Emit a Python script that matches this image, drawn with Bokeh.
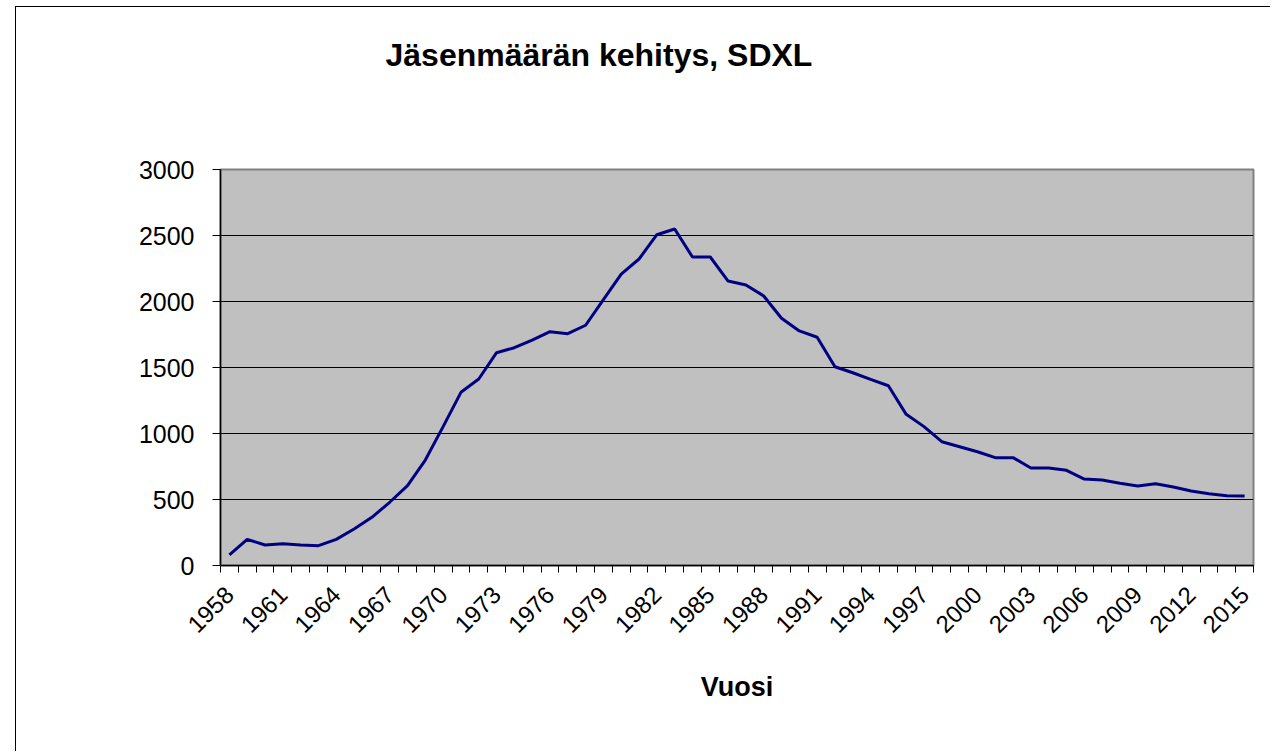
import math
from bokeh.plotting import figure
from bokeh.models import FixedTicker, Range1d, ColumnDataSource, Title
from bokeh.embed import file_html
from bokeh.resources import INLINE

# ---- data ----
years = list(range(1958, 2016))
members = [80, 198, 155, 165, 155, 150, 198, 277, 365, 479,
           605, 799, 1052, 1312, 1413, 1612, 1650, 1708, 1771, 1756,
           1820, 2014, 2208, 2322, 2506, 2549, 2337, 2337, 2155, 2125,
           2042, 1873, 1777, 1729, 1506, 1460, 1410, 1362, 1145, 1052,
           938, 900, 862, 817, 817, 739, 739, 721, 655, 648,
           623, 602, 620, 595, 565, 544, 529, 527]
label_years = list(range(1958, 2016, 3))
y_ticks = [0, 500, 1000, 1500, 2000, 2500, 3000]
title_text = "Jäsenmäärän kehitys, SDXL"
x_title = "Vuosi"

FONT = "Liberation Sans"

src = ColumnDataSource(data=dict(year=years, members=members))

p = figure(width=1255, height=745, output_backend="svg", toolbar_location=None,
           x_range=Range1d(years[0] - 0.5, years[-1] + 0.5),
           y_range=Range1d(y_ticks[0], y_ticks[-1]),
           min_border_left=204, min_border_right=18,
           min_border_top=162, min_border_bottom=187,
           margin=(6, 0, 0, 15),
           styles={"border-left": "1px solid black", "border-top": "1px solid black"})

p.background_fill_color = "#C0C0C0"
p.border_fill_color = "white"
p.outline_line_color = "#808080"
p.outline_line_width = 2

p.line("year", "members", source=src, line_color="#000080", line_width=3)

# title
p.title.text = title_text
p.title.align = "left"
p.title.offset = 165
p.title.standoff = 10
p.title.text_font = FONT
p.title.text_font_style = "bold"
p.title.text_font_size = "32px"
p.title.text_color = "black"

# spacer between title and plot area
p.add_layout(Title(text=" ", text_font_size="1px", standoff=89), "above")

# grids
p.xgrid.visible = False
p.ygrid.grid_line_color = "black"
p.ygrid.grid_line_width = 1
p.ygrid.ticker = FixedTicker(ticks=y_ticks)

# y axis
ya = p.yaxis[0]
ya.ticker = FixedTicker(ticks=y_ticks)
ya.axis_line_color = "black"
ya.axis_line_width = 1.5
ya.major_tick_out = 8
ya.major_tick_in = 0
ya.minor_tick_out = 0
ya.minor_tick_in = 0
ya.major_label_standoff = 18
ya.major_label_text_font = FONT
ya.major_label_text_font_size = "25px"
ya.major_label_text_color = "black"

# x axis
xa = p.xaxis[0]
xa.ticker = FixedTicker(ticks=label_years,
                        minor_ticks=[y - 0.5 for y in years] + [years[-1] + 0.5])
xa.axis_line_color = "black"
xa.axis_line_width = 1.5
xa.major_tick_out = 0
xa.major_tick_in = 0
xa.minor_tick_out = 7
xa.minor_tick_in = 0
xa.minor_tick_line_color = "black"
xa.major_label_orientation = math.pi / 4
xa.major_label_standoff = 18
xa.major_label_text_font = FONT
xa.major_label_text_font_size = "24px"
xa.major_label_text_color = "black"
xa.axis_label = x_title
xa.axis_label_text_font = FONT
xa.axis_label_text_font_style = "bold"
xa.axis_label_text_font_size = "27px"
xa.axis_label_standoff = 29
xa.axis_label_text_color = "black"

open("out.html", "w").write(file_html(p, INLINE))
